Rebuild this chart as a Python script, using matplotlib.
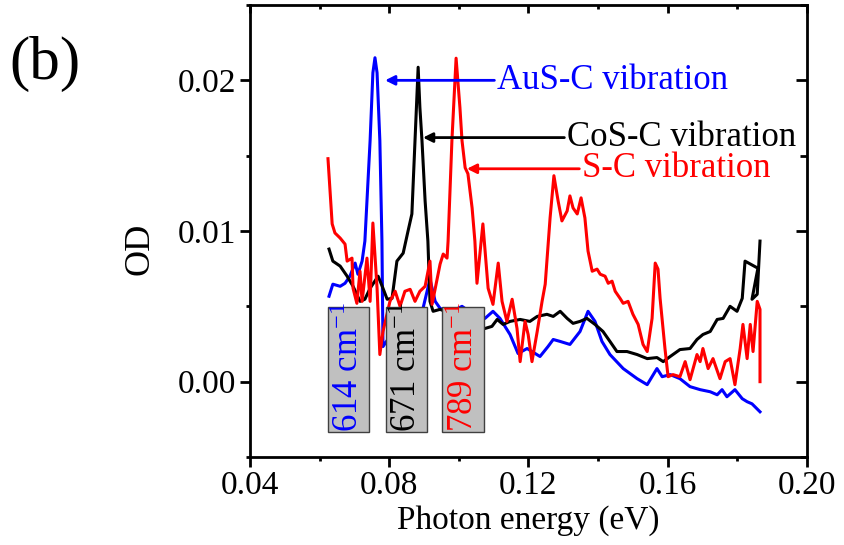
import matplotlib
matplotlib.use("Agg")
import matplotlib.pyplot as plt
from matplotlib.patches import Rectangle
from matplotlib.ticker import MultipleLocator, FormatStrFormatter

plt.rcParams['font.family'] = ['Liberation Serif', 'DejaVu Serif']
plt.rcParams['mathtext.fontset'] = 'custom'
plt.rcParams['mathtext.rm'] = 'Liberation Serif'
plt.rcParams['mathtext.it'] = 'Liberation Serif'

# --- Data (x in eV, y in OD units of 1e-3) ---
blue_x = [0.0627, 0.0638, 0.0659, 0.0673, 0.0687, 0.0702, 0.0710, 0.0722, 0.0730, 0.0745,
          0.0753, 0.0759, 0.0765, 0.0773, 0.0779, 0.0782, 0.0831, 0.0888, 0.0897, 0.0917,
          0.0932, 0.0946, 0.0975, 0.1009, 0.1046, 0.1075, 0.1098, 0.1118, 0.1147, 0.1170,
          0.1196, 0.1233, 0.1256, 0.1271, 0.1291, 0.1319, 0.1348, 0.1371, 0.1391, 0.1411,
          0.1434, 0.1472, 0.1512, 0.1541, 0.1569, 0.1584, 0.1607, 0.1635, 0.1664, 0.1693,
          0.1722, 0.1742, 0.1756, 0.1770, 0.1793, 0.1814, 0.1828, 0.1842, 0.1865]
blue_y = [5.67, 6.47, 6.33, 6.53, 7.0, 7.87, 7.13, 8.0, 9.33, 16.0,
          20.5, 21.5, 20.5, 16.0, 9.33, 2.33, 4.0, 4.5, 4.87, 6.8,
          5.33, 4.87, 4.6, 5.0, 4.4, 4.2, 4.67, 4.2, 3.13, 1.87,
          2.2, 1.67, 2.33, 2.8, 2.67, 2.47, 3.33, 4.67, 4.0, 2.67,
          1.8, 0.87, 0.2, -0.2, 0.87, 0.33, 0.47, 0.2, -0.33, -0.53,
          -0.67, -0.87, -0.53, -1.0, -0.53, -1.13, -1.33, -1.47, -2.0]

black_x = [0.0627, 0.0638, 0.0659, 0.0679, 0.0696, 0.0716, 0.0730, 0.0745, 0.0768, 0.0782,
           0.0794, 0.0808, 0.0822, 0.0840, 0.0854, 0.0865, 0.0874, 0.0883, 0.0888, 0.0894,
           0.0903, 0.0911, 0.0917, 0.0926, 0.0946, 0.1000, 0.1075, 0.1095, 0.1110, 0.1127,
           0.1147, 0.1176, 0.1204, 0.1225, 0.1253, 0.1271, 0.1291, 0.1311, 0.1328, 0.1348,
           0.1368, 0.1391, 0.1414, 0.1434, 0.1454, 0.1483, 0.1512, 0.1541, 0.1569, 0.1587,
           0.1607, 0.1635, 0.1664, 0.1684, 0.1701, 0.1722, 0.1742, 0.1759, 0.1779, 0.1799,
           0.1814, 0.1822, 0.1859, 0.1842, 0.1857, 0.1865]
black_y = [8.8, 8.0, 7.67, 7.0, 6.33, 5.33, 5.47, 6.2, 7.0, 6.2,
           5.47, 5.53, 8.0, 8.53, 10.0, 11.13, 16.0, 20.87, 18.2, 16.0,
           12.0, 9.33, 5.33, 4.67, 4.8, 4.3, 3.53, 3.67, 4.13, 3.8,
           4.0, 4.13, 4.0, 4.33, 4.47, 4.33, 4.67, 4.2, 3.87, 4.0,
           4.2, 3.8, 3.33, 2.67, 2.0, 2.0, 1.8, 1.53, 1.6, 1.33,
           1.67, 2.13, 2.2, 2.8, 3.13, 3.33, 4.13, 4.2, 5.0, 4.67,
           5.53, 8.0, 7.53, 5.47, 5.8, 9.33]

red_x = [0.0624, 0.0636, 0.0644, 0.0659, 0.0673, 0.0679, 0.0693, 0.0696, 0.0707, 0.0716,
         0.0722, 0.0736, 0.0745, 0.0753, 0.0765, 0.0773, 0.0782, 0.0802, 0.0817, 0.0831,
         0.0845, 0.0860, 0.0874, 0.0888, 0.0903, 0.0917, 0.0923, 0.0946, 0.0955, 0.0966,
         0.0969, 0.0980, 0.0992, 0.1003, 0.1009, 0.1018, 0.1026, 0.1038, 0.1046, 0.1052,
         0.1069, 0.1084, 0.1098, 0.1113, 0.1124, 0.1138, 0.1153, 0.1167, 0.1176, 0.1190,
         0.1199, 0.1210, 0.1225, 0.1239, 0.1248, 0.1262, 0.1273, 0.1285, 0.1296, 0.1311,
         0.1319, 0.1328, 0.1340, 0.1351, 0.1362, 0.1371, 0.1383, 0.1397, 0.1406, 0.1420,
         0.1429, 0.1440, 0.1449, 0.1463, 0.1472, 0.1486, 0.1500, 0.1515, 0.1529, 0.1541,
         0.1555, 0.1564, 0.1572, 0.1578, 0.1592, 0.1601, 0.1615, 0.1635, 0.1650, 0.1664,
         0.1684, 0.1693, 0.1701, 0.1716, 0.1730, 0.1750, 0.1765, 0.1779, 0.1793, 0.1808,
         0.1816, 0.1828, 0.1837, 0.1845, 0.1857, 0.1865, 0.1865]
red_y = [14.8, 10.47, 9.87, 9.53, 9.13, 8.0, 8.2, 6.2, 5.2, 7.33,
         5.33, 8.2, 5.33, 10.53, 6.2, 1.8, 3.33, 5.33, 6.0, 5.0,
         6.0, 6.13, 5.33, 6.0, 6.33, 8.0, 5.13, 7.8, 8.47, 8.2,
         9.33, 16.0, 21.47, 18.2, 16.0, 14.2, 13.8, 11.53, 9.33, 6.53,
         10.47, 6.2, 5.13, 7.87, 5.33, 4.0, 5.47, 3.53, 1.33, 4.0,
         3.13, 1.33, 3.33, 5.33, 6.47, 10.87, 13.67, 12.0, 10.67, 11.33,
         12.33, 11.53, 11.13, 12.2, 10.87, 8.67, 7.33, 7.47, 7.13, 7.0,
         6.53, 6.67, 6.0, 5.53, 5.2, 5.33, 4.47, 3.8, 2.47, 2.0,
         4.2, 7.87, 7.47, 5.53, 2.2, 0.33, 0.47, 0.33, 1.33, 0.13,
         1.8, 1.33, 2.2, 0.87, 1.53, 0.2, 1.33, 1.53, -0.2, 2.2,
         3.8, 1.53, 3.8, 2.0, 5.33, 4.8, 0.0]

series = [
    (blue_x, blue_y, "blue", "AuS-C vibration", "614"),
    (black_x, black_y, "black", "CoS-C vibration", "671"),
    (red_x, red_y, "red", "S-C vibration", "789"),
]

# annotation placement: (arrow head x, arrow y, text x)
arrow_spots = [(0.0788, 0.0200, 0.1110), (0.0897, 0.0162, 0.1311), (0.1023, 0.01413, 0.1354)]
# grey label boxes: (x0, x1)
box_spans = [(0.0624, 0.0742), (0.0791, 0.0909), (0.0952, 0.1072)]
box_y = (-0.00333, 0.00493)

fig = plt.figure(figsize=(8.45, 5.45), dpi=100)
ax = fig.add_axes([250 / 845, 88 / 545, 557 / 845, 452 / 545])

for xs, ys, col, _, _ in series:
    ax.plot(xs, [v / 1000 for v in ys], color=col, lw=2.2, zorder=2)

for (xs, ys, col, lab, wn), (hx, hy, tx), (b0, b1) in zip(series, arrow_spots, box_spans):
    ax.annotate(lab, xy=(hx, hy), xytext=(tx, hy), color=col, fontsize=25,
                va='center', ha='left',
                arrowprops=dict(arrowstyle='-|>', color=col, lw=2, mutation_scale=14,
                                shrinkA=0, shrinkB=0), zorder=4)
    ax.add_patch(Rectangle((b0, box_y[0]), b1 - b0, box_y[1] - box_y[0],
                           facecolor='#c0c0c0', edgecolor='#404040', lw=1, zorder=3))
    ax.text((b0 + b1) / 2 + 0.0003, box_y[0], wn + r" cm$^{-1}$", rotation=90, color=col,
            fontsize=25, ha='center', va='bottom', zorder=4)

ax.set_xlim(0.04, 0.20)
ax.set_ylim(-0.005, 0.025)
ax.xaxis.set_major_locator(MultipleLocator(0.04))
ax.xaxis.set_minor_locator(MultipleLocator(0.02))
ax.yaxis.set_major_locator(MultipleLocator(0.01))
ax.yaxis.set_minor_locator(MultipleLocator(0.005))
ax.xaxis.set_major_formatter(FormatStrFormatter('%.2f'))
ax.yaxis.set_major_formatter(FormatStrFormatter('%.2f'))
ax.tick_params(which='major', direction='out', length=7, width=2, labelsize=24, pad=3)
ax.tick_params(which='minor', direction='out', length=3, width=2)
for s in ax.spines.values():
    s.set_linewidth(2)

# top and right ticks point inwards
top = ax.secondary_xaxis('top')
top.xaxis.set_major_locator(MultipleLocator(0.04))
top.xaxis.set_minor_locator(MultipleLocator(0.02))
top.tick_params(which='major', direction='in', length=6, width=2, labeltop=False)
top.tick_params(which='minor', direction='in', length=3, width=2)
right = ax.secondary_yaxis('right')
right.yaxis.set_major_locator(MultipleLocator(0.01))
right.yaxis.set_minor_locator(MultipleLocator(0.005))
right.tick_params(which='major', direction='in', length=8, width=2, labelright=False)
right.tick_params(which='minor', direction='in', length=5, width=2)

ax.set_xlabel('Photon energy (eV)', fontsize=24, labelpad=3)
fig.text(140 / 845, 1 - 249 / 545, 'OD', rotation=90, fontsize=26, ha='center', va='center')
fig.text(9 / 845, 1 - 79 / 545, '(b)', fontsize=44, ha='left', va='baseline')

fig.savefig('out.png', dpi=100)
